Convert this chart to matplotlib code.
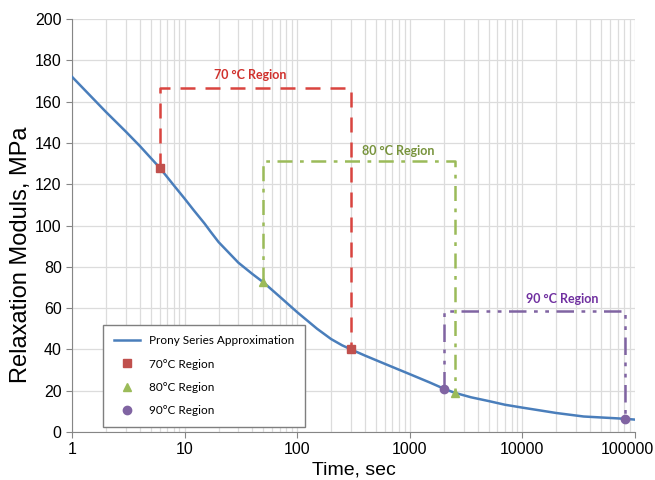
import matplotlib.pyplot as plt
from matplotlib.transforms import ScaledTranslation

plt.rcParams['font.family'] = ['Liberation Sans', 'DejaVu Sans']

# Prony series curve
time = [1, 2, 3, 4, 6, 8, 10, 12, 15, 17, 20, 25, 30, 40, 50, 70, 100, 150,
        200, 250, 300, 400, 600, 1000, 1500, 2000, 2500, 3500, 5000, 7000,
        10000, 20000, 35000, 60000, 81000, 100000]
modulus = [172, 155, 145.5, 138.5, 128, 119.5, 113, 107.5, 101, 97, 92, 86.5,
           82, 76.5, 72.5, 65.5, 58, 50, 45, 42, 40, 37, 33, 28, 24, 21, 19,
           16.8, 15, 13.2, 11.8, 9.2, 7.5, 6.8, 6.4, 6]

# region end points (time, modulus) and box heights
t70 = [6, 300]
e70 = [128, 40]
top70 = 166.5
t80 = [50, 2500]
e80 = [72.5, 19]
top80 = 131
t90 = [2000, 81000]
e90 = [21, 6.5]
top90 = 58.5

xticks = [1, 10, 100, 1000, 10000, 100000]
xticklabels = ['1', '10', '100', '1000', '10000', '100000']

blue = '#4a7ebb'
red = '#c0504d'
green = '#9bbb59'
purple = '#8064a2'

fig = plt.figure(figsize=(6.55, 4.8), dpi=100)
ax = fig.add_axes([0.110, 0.100, 0.8595, 0.8604])

ax.plot(time, modulus, color=blue, lw=1.8, label='Prony Series Approximation', zorder=3)

ax.plot([t70[0], t70[0], t70[1], t70[1]], [e70[0], top70, top70, e70[1]],
        color='#d9443f', lw=1.8, dashes=(6, 4), zorder=2)
ax.plot([t80[0], t80[0], t80[1], t80[1]], [e80[0], top80, top80, e80[1]],
        color=green, lw=1.8, dashes=(6, 3, 1.5, 3), zorder=2)
ax.plot([t90[0], t90[0], t90[1], t90[1]], [e90[0], top90, top90, e90[1]],
        color=purple, lw=1.8, dashes=(7, 3, 1.5, 3, 1.5, 3), zorder=2)

ax.plot(t70, e70, 's', color=red, ms=6, label='70°C Region', zorder=4)
ax.plot(t80, e80, '^', color=green, ms=6, label='80°C Region', zorder=4)
ax.plot(t90, e90, 'o', color=purple, ms=6, label='90°C Region', zorder=4)

ax.text(38, 173, '70 °C Region', color='#d0312d', fontsize=9, fontweight='bold',
        family=['Lato', 'DejaVu Sans'], ha='center', va='center')
ax.text(790, 136, '80 °C Region', color='#77933c', fontsize=9, fontweight='bold',
        family=['Lato', 'DejaVu Sans'], ha='center', va='center')
ax.text(22400, 64.5, '90 °C Region', color='#7030a0', fontsize=9, fontweight='bold',
        family=['Lato', 'DejaVu Sans'], ha='center', va='center')

ax.set_xscale('log')
ax.set_xlim(1, 100000)
ax.set_ylim(0, 200)
ax.set_yticks(range(0, 201, 20))
ax.set_xticks(xticks)
ax.set_xticklabels(xticklabels)
ax.tick_params(axis='both', labelsize=11.5, length=4, color='#868686')
ax.tick_params(axis='x', which='minor', length=0)
ax.grid(True, which='both', color='#dcdcdc', lw=0.9)
ax.set_axisbelow(True)
for s in ['top', 'right']:
    ax.spines[s].set_visible(False)
for s in ['left', 'bottom']:
    ax.spines[s].set_color('#868686')

# last tick label pulled left so it stays inside the figure
lbl = ax.xaxis.get_major_ticks()[-1].label1
lbl.set_transform(lbl.get_transform() + ScaledTranslation(-0.08, 0, fig.dpi_scale_trans))

ax.set_xlabel('Time, sec', fontsize=14, labelpad=3)
ax.set_ylabel('Relaxation Moduls, MPa', fontsize=17)
ax.yaxis.set_label_coords(-0.072, 0.43)

leg = ax.legend(loc='lower left', bbox_to_anchor=(0.055, 0.012), borderaxespad=0,
                fancybox=False, edgecolor='#7f7f7f', framealpha=1,
                prop={'family': 'Lato', 'size': 8.5},
                handlelength=2.2, borderpad=0.9, labelspacing=1.05)
leg.get_frame().set_linewidth(1.0)

fig.savefig('out.png', dpi=100)
